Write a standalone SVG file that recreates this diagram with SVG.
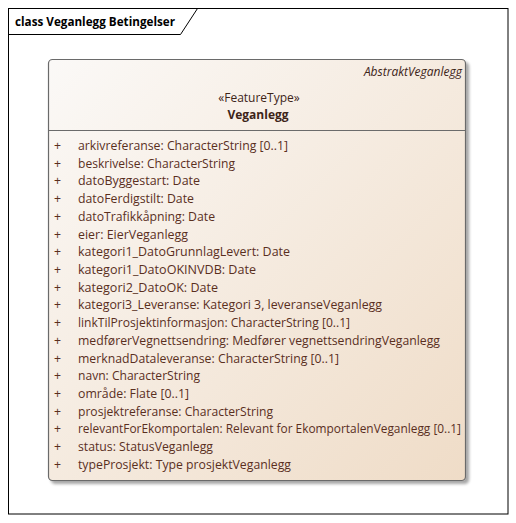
<svg xmlns="http://www.w3.org/2000/svg" width="516" height="523" viewBox="0 0 516 523">
<defs>
<linearGradient id="bg" x1="0" y1="0" x2="1" y2="1">
<stop offset="0" stop-color="#fbf9f7"/>
<stop offset="1" stop-color="#efdcc7"/>
</linearGradient>
<filter id="sh" x="-5%" y="-5%" width="115%" height="115%">
<feGaussianBlur in="SourceAlpha" stdDeviation="1.5"/>
<feOffset dx="3" dy="3"/>
<feComponentTransfer><feFuncA type="linear" slope="0.35"/></feComponentTransfer>
<feMerge><feMergeNode/><feMergeNode in="SourceGraphic"/></feMerge>
</filter>
</defs>
<style>
.t{font-family:"Open Sans","Liberation Sans",sans-serif;font-size:12px;fill:#3d2418}
.a{font-family:"Open Sans","Liberation Sans",sans-serif;font-size:12px;fill:#5a2f1e}
.p{font-family:"Liberation Sans",sans-serif;font-size:12px;fill:#5a2f1e}
</style>
<rect x="0" y="0" width="516" height="523" fill="#ffffff"/>
<g id="frame">
<rect x="8.5" y="8.5" width="499.5" height="505.5" fill="none" stroke="#000" stroke-width="1"/>
<path d="M8.5 34.5 H180.5 L197.5 8.5" fill="none" stroke="#000" stroke-width="1"/>
<text x="15" y="26" font-family="'Open Sans','Liberation Sans',sans-serif" font-size="13" font-weight="bold" fill="#000" textLength="160" lengthAdjust="spacingAndGlyphs">class Veganlegg Betingelser</text>
</g>
<g id="Veganlegg">
<rect x="48.5" y="59.5" width="417" height="421" rx="4" fill="url(#bg)" stroke="#6b6b6b" stroke-width="1.2" filter="url(#sh)"/>
<line x1="48.5" y1="130.5" x2="465.5" y2="130.5" stroke="#6b6b6b" stroke-width="1.2"/>
<text class="t" x="462" y="76" text-anchor="end" font-style="italic" fill="#444">AbstraktVeganlegg</text>
<text class="t" x="259" y="102" text-anchor="middle" fill="#222">«FeatureType»</text>
<text class="t" x="258" y="119" text-anchor="middle" font-weight="bold" fill="#111">Veganlegg</text>
<g class="p">
<text x="54" y="150">+</text><text x="54" y="168">+</text><text x="54" y="185">+</text><text x="54" y="203">+</text><text x="54" y="221">+</text><text x="54" y="239">+</text><text x="54" y="256">+</text><text x="54" y="274">+</text><text x="54" y="292">+</text><text x="54" y="309">+</text><text x="54" y="327">+</text><text x="54" y="345">+</text><text x="54" y="363">+</text><text x="54" y="380">+</text><text x="54" y="398">+</text><text x="54" y="416">+</text><text x="54" y="433">+</text><text x="54" y="451">+</text><text x="54" y="469">+</text>
</g>
<g class="a">
<text x="78" y="150" textLength="210" lengthAdjust="spacingAndGlyphs">arkivreferanse: CharacterString [0..1]</text>
<text x="78" y="168" textLength="157" lengthAdjust="spacingAndGlyphs">beskrivelse: CharacterString</text>
<text x="78" y="185" textLength="122" lengthAdjust="spacingAndGlyphs">datoByggestart: Date</text>
<text x="78" y="203" textLength="116" lengthAdjust="spacingAndGlyphs">datoFerdigstilt: Date</text>
<text x="78" y="221" textLength="137" lengthAdjust="spacingAndGlyphs">datoTrafikkåpning: Date</text>
<text x="78" y="239" textLength="110" lengthAdjust="spacingAndGlyphs">eier: EierVeganlegg</text>
<text x="78" y="256" textLength="212" lengthAdjust="spacingAndGlyphs">kategori1_DatoGrunnlagLevert: Date</text>
<text x="78" y="274" textLength="178" lengthAdjust="spacingAndGlyphs">kategori1_DatoOKINVDB: Date</text>
<text x="78" y="292" textLength="140" lengthAdjust="spacingAndGlyphs">kategori2_DatoOK: Date</text>
<text x="78" y="309" textLength="304" lengthAdjust="spacingAndGlyphs">kategori3_Leveranse: Kategori 3, leveranseVeganlegg</text>
<text x="78" y="327" textLength="272" lengthAdjust="spacingAndGlyphs">linkTilProsjektinformasjon: CharacterString [0..1]</text>
<text x="78" y="345" textLength="362" lengthAdjust="spacingAndGlyphs">medførerVegnettsendring: Medfører vegnettsendringVeganlegg</text>
<text x="78" y="363" textLength="261" lengthAdjust="spacingAndGlyphs">merknadDataleveranse: CharacterString [0..1]</text>
<text x="78" y="380" textLength="122" lengthAdjust="spacingAndGlyphs">navn: CharacterString</text>
<text x="78" y="398" textLength="111" lengthAdjust="spacingAndGlyphs">område: Flate [0..1]</text>
<text x="78" y="416" textLength="195" lengthAdjust="spacingAndGlyphs">prosjektreferanse: CharacterString</text>
<text x="78" y="433" textLength="383" lengthAdjust="spacingAndGlyphs">relevantForEkomportalen: Relevant for EkomportalenVeganlegg [0..1]</text>
<text x="78" y="451" textLength="135" lengthAdjust="spacingAndGlyphs">status: StatusVeganlegg</text>
<text x="78" y="469" textLength="213" lengthAdjust="spacingAndGlyphs">typeProsjekt: Type prosjektVeganlegg</text>
</g>
</g>
<g id="connectors"/>
</svg>
